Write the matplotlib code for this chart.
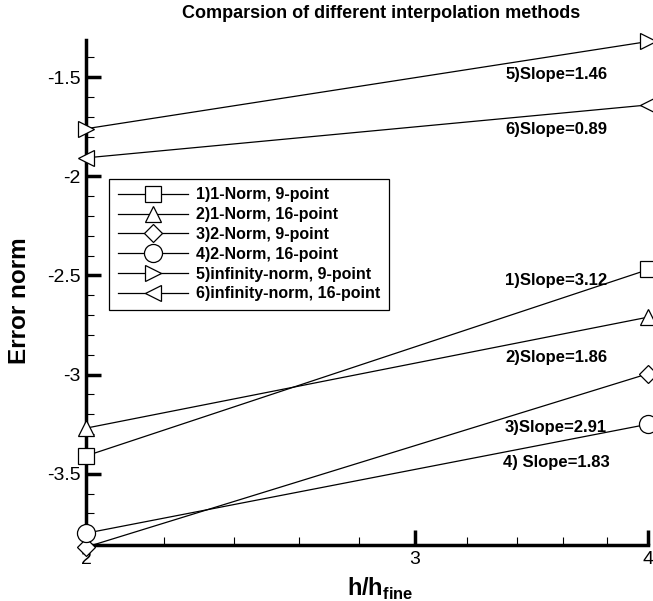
import numpy as np
import matplotlib.pyplot as plt
from matplotlib.ticker import FixedLocator, NullFormatter

plt.rcParams['font.family'] = ['Liberation Sans', 'DejaVu Sans']
plt.rcParams['mathtext.fontset'] = 'custom'
plt.rcParams['mathtext.bf'] = 'Liberation Sans:bold'
plt.rcParams['mathtext.rm'] = 'Liberation Sans'

# grid ratio h/h_fine and log10 error norms
ratio = [2, 4]
err_1norm_9 = [-3.41, -2.47]
err_1norm_16 = [-3.27, -2.71]
err_2norm_9 = [-3.87, -2.995]
err_2norm_16 = [-3.80, -3.25]
err_inf_9 = [-1.76, -1.32]
err_inf_16 = [-1.907, -1.64]

labels = ['1)1-Norm, 9-point', '2)1-Norm, 16-point', '3)2-Norm, 9-point',
          '4)2-Norm, 16-point', '5)infinity-norm, 9-point', '6)infinity-norm, 16-point']
markers = ['s', '^', 'D', 'o', '>', '<']
sizes = [11, 12, 9, 13, 12, 12]

slope_text = ['1)Slope=3.12', '2)Slope=1.86', '3)Slope=2.91',
              '4) Slope=1.83', '5)Slope=1.46', '6)Slope=0.89']
slope_y = [-2.525, -2.912, -3.269, -3.445, -1.485, -1.766]

fig = plt.figure(figsize=(6.53, 6.01), dpi=100)
ax = fig.add_axes([0.132, 0.093, 0.861, 0.840])

series = [err_1norm_9, err_1norm_16, err_2norm_9, err_2norm_16, err_inf_9, err_inf_16]
for s, m, ms, lab in zip(series, markers, sizes, labels):
    ax.plot(ratio, s, color='black', lw=0.9, marker=m, markersize=ms,
            markerfacecolor='white', markeredgecolor='black', markeredgewidth=0.9,
            clip_on=False, label=lab, zorder=3)

for t, y in zip(slope_text, slope_y):
    ax.text(3.57, y, t, ha='center', va='center', fontsize=12, fontweight='bold')

ax.set_xscale('log')
ax.set_xlim(2, 4)
ax.set_ylim(-3.86, -1.314)
ax.xaxis.set_major_locator(FixedLocator([2, 3, 4]))
ax.xaxis.set_minor_locator(FixedLocator([2.2, 2.4, 2.6, 2.8, 3.2, 3.4, 3.6, 3.8]))
ax.set_xticklabels(['2', '3', '4'])
ax.xaxis.set_minor_formatter(NullFormatter())
ax.set_yticks([-3.5, -3, -2.5, -2, -1.5])
ax.set_yticklabels(['-3.5', '-3', '-2.5', '-2', '-1.5'])
ax.yaxis.set_minor_locator(FixedLocator(np.arange(-3.8, -1.3, 0.1)))

for side in ['top', 'right']:
    ax.spines[side].set_visible(False)
for side in ['left', 'bottom']:
    ax.spines[side].set_linewidth(2.5)

ax.tick_params(which='major', direction='in', length=11, width=2.5, labelsize=14, pad=4)
ax.tick_params(which='minor', direction='in', length=6, width=0.8)

fig.text(0.584, 0.977, 'Comparsion of different interpolation methods', fontsize=13,
         fontweight='bold', ha='center', va='center')
ax.set_ylabel('Error norm', fontsize=17.5, fontweight='bold', va='center')
ax.yaxis.set_label_coords(-0.118, 0.485)
ax.set_xlabel(r'h/h$_{\mathbf{fine}}$', fontsize=17, fontweight='bold')
ax.xaxis.set_label_coords(0.523, -0.06)

leg = ax.legend(loc='upper left', bbox_to_anchor=(0.041, 0.726),
                frameon=True, fancybox=False, edgecolor='black', framealpha=1,
                handlelength=4.4, labelspacing=0.3, borderpad=0.55, borderaxespad=0,
                handletextpad=0.5, prop={'weight': 'bold', 'size': 11.5})
leg.get_frame().set_linewidth(0.9)

fig.savefig('out.png', dpi=100)
